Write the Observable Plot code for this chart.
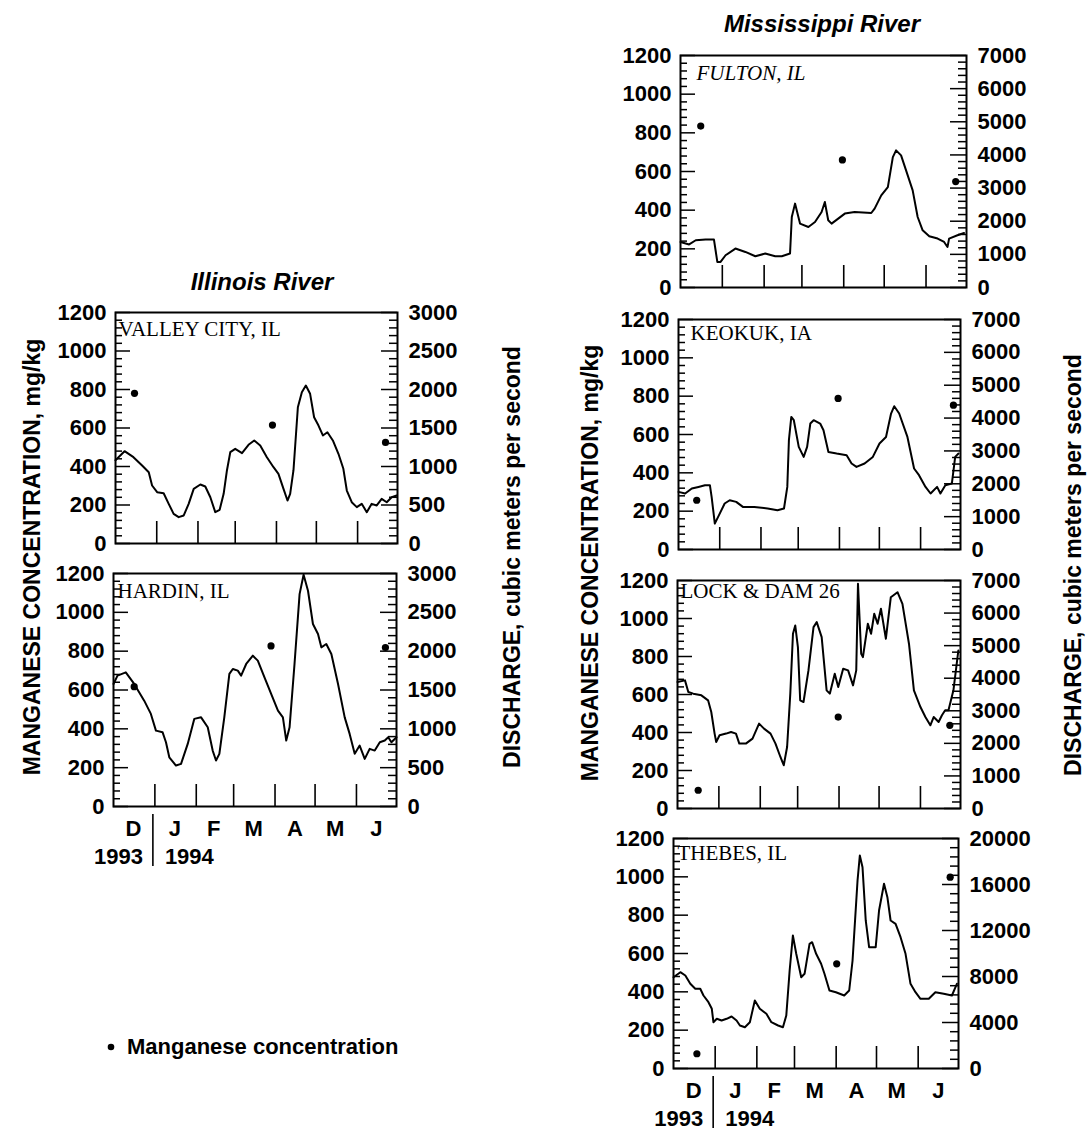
<!DOCTYPE html>
<html><head><meta charset="utf-8">
<script src="https://cdn.jsdelivr.net/npm/d3@7"></script>
<script src="https://cdn.jsdelivr.net/npm/@observablehq/plot@0.6"></script>
<style>
html,body{margin:0;padding:0;background:#fff;}
#root{position:relative;width:1089px;height:1133px;background:#fff;overflow:hidden;font-family:"Liberation Sans",Arial,Helvetica,sans-serif;color:#000;}
.t{position:absolute;transform:translate(-50%,-50%);white-space:nowrap;color:#000;}
.rot{transform:translate(-50%,-50%) rotate(-90deg);}
</style></head><body><div id="root"></div>
<script>
// ---------------- DATA ----------------
// Days are counted from 1 December 1993; discharge in m3/s, manganese in mg/kg
const monthLetters = ["D","J","F","M","A","M","J"];
const monthStartDates = ["1994-01-01","1994-02-01","1994-03-01","1994-04-01","1994-05-01","1994-06-01"];
const monthMidDates = ["1993-12-16","1994-01-16","1994-02-14","1994-03-16","1994-04-16","1994-05-16","1994-06-16"];
const yearLabels = ["1993","1994"];
const mnTicks = [0,200,400,600,800,1000,1200];
const qTicksIllinois = [0,500,1000,1500,2000,2500,3000];
const qTicksUpperMiss = [0,1000,2000,3000,4000,5000,6000,7000];
const qTicksThebes = [0,4000,8000,12000,16000,20000];

const valleyDays = [0,6.8,13.5,20,25,27.5,31.3,36.2,40,43.7,47.5,51.3,55,58.8,63.8,67.5,71.3,75,78.3,81.3,83.8,86.3,90,95.1,100,104.3,108.8,113.8,118.8,122.5,126.3,129.3,131.3,133.8,137.1,140.1,143.1,146.3,149.3,152.6,155.9,159.3,163.4,167.6,171.3,173.9,177.6,181.4,185.1,188.9,192.6,196.4,200.1,203.9,207.6,211.4];
const valleyQ = [1082,1199,1121,1013,926,753,666,653,515,385,342,364,515,710,766,740,601,407,438,645,952,1186,1229,1173,1282,1338,1273,1121,991,905,710,558,645,952,1770,1965,2052,1944,1640,1532,1403,1445,1338,1165,970,688,536,472,515,407,515,494,580,536,601,623];
const valleyMnDays = [14.3,118,203];
const valleyMn = [780,615,525];

const hardinDays = [0,3,9.2,15.5,23,28,31.8,36.8,39.3,41.8,46.8,50.6,55.6,60.5,65.6,70.6,74.3,76.8,79.3,83,86.8,89.4,93.1,95.6,99.4,104.4,108.1,113.1,118.1,123.2,126.9,129.4,131.9,135.6,139.4,142.4,145.7,149.4,153.2,155.7,159.4,163.2,168.2,173.2,176.9,180.7,184.4,188.2,191.9,195.7,199.5,203.2,205.8,208.2,212];
const hardinQ = [1578,1685,1727,1578,1363,1192,977,955,827,634,527,549,806,1128,1148,1020,720,592,678,1148,1707,1771,1749,1685,1835,1942,1878,1663,1449,1235,1148,849,1020,1835,2735,2984,2778,2350,2221,2049,2092,1964,1578,1148,935,678,784,613,742,720,827,849,891,827,891];
const hardinMnDays = [15.5,118,203.7];
const hardinMn = [617,827,819];

const fultonDays = [0,6.4,11.3,18.6,24.8,26,27.3,29.7,33.4,40.7,48.1,55.5,62.8,70.2,75.1,81.2,82.5,84.9,88.6,94.8,99.7,104.6,107,109.5,112,116.9,121.8,129.1,141.4,143.9,148.8,153.7,157.4,159.8,163.5,167.2,172.1,175.8,179.5,184.4,190.6,195.4,197.9,199.1,205.3,210.2];
const fultonQ = [1374,1300,1425,1446,1446,1124,771,771,973,1175,1073,943,1024,943,943,1024,2127,2531,1928,1826,1977,2278,2579,2028,1928,2079,2230,2278,2248,2380,2781,3031,3935,4137,3986,3534,2932,2127,1726,1546,1476,1374,1223,1476,1576,1645];
const fultonMnDays = [15,120,204];
const fultonMn = [835,660,548];

const keokukDays = [0,5,10,15,19.9,23.6,24.9,27.3,29.8,34.7,38.5,43.4,48.4,57,67,74.4,79.3,81.8,83,84.8,86.7,90.4,94.1,96.7,99.1,101.6,106.5,109,112.7,118.9,126.4,130.1,133.8,139.9,146.1,151.1,156,159.8,162.2,165.9,172.1,177.1,180.8,185.7,189.5,194.4,196.9,200.6,205.5,208,210.5];
const keokukQ = [1753,1704,1856,1905,1957,1957,1601,791,992,1400,1500,1449,1296,1296,1248,1196,1248,1905,3326,4035,3935,3122,2818,3122,3834,3935,3834,3630,2970,2921,2870,2617,2514,2617,2818,3226,3426,4138,4361,4138,3426,2465,2261,1905,1704,1905,1704,1957,2008,2818,2921];
const keokukMnDays = [13.7,120,206.7];
const keokukMn = [257,788,753];

const lockDays = [0,5.6,8.1,11.8,17.9,22.9,25.3,27.8,29,31.5,36.4,40.1,43.8,46.3,51.2,56.2,61.1,64.8,69.7,73.4,77.1,79.6,82.1,84.5,86.5,88.2,90.2,91.9,94.4,98.1,101.9,104.3,108,111.7,114.1,117.8,120.4,124.1,127.8,131.5,133.9,135.2,137.6,138.9,142.6,145,147.4,149.9,152.4,156.1,159.8,164.8,168.5,173.4,177.1,182,185.7,189.4,191.9,195.6,198.1,200.5,203,206.7,210.4];
const lockQ = [3882,3934,3575,3526,3474,3321,2962,2300,2042,2247,2300,2349,2300,1993,1993,2146,2606,2453,2300,1993,1582,1328,1889,3526,5366,5620,4955,3321,3269,4240,5568,5721,5261,3627,3526,4139,3728,4292,4240,3780,4240,6899,4752,4648,5672,5366,5979,5672,6132,5212,6488,6641,6285,5059,3627,3115,2808,2554,2808,2655,2861,3014,3014,3627,4854];
const lockMnDays = [15.5,120.4,204];
const lockMn = [96,481,438];

const thebesDays = [0,5.1,8.8,12.5,16.2,19.9,22.3,26,28.5,29.7,32.2,35.8,39.5,43.2,46.9,49.4,53.1,56.8,60.5,64.2,69.1,72.8,77.8,81.4,83.9,86.4,88.8,91.3,95,97.5,101.2,103.1,106.1,109.8,112.3,116,120.8,127,130.7,133.2,136.9,138.6,140.6,143,145.5,150.4,152.9,156.6,159.1,161.5,165.2,168.9,172.6,176.3,180,183.7,189.9,194.8,201,207.1,210.8];
const thebesQ = [7939,8374,8087,7366,6931,6931,6348,5765,5191,4026,4322,4174,4322,4522,4174,3739,3591,4026,5913,5191,4757,4026,3739,3591,4609,8522,11566,9974,7939,8235,10844,10983,9974,9105,8235,6783,6635,6348,6783,9392,16348,18522,17505,12870,10548,10548,13740,16061,14896,12870,12583,11418,9974,7366,6635,6061,6061,6635,6496,6348,7366];
const thebesMnDays = [17.4,121.4,205.8];
const thebesMn = [77,546,998];

// ---------------- LAYOUT / STYLE ----------------
const SANS = '"Liberation Sans", Arial, Helvetica, sans-serif';
const SERIF = '"Liberation Serif", "Times New Roman", serif';
const START = Date.UTC(1993, 11, 1), END = Date.UTC(1994, 6, 1);
const toDate = d => new Date(START + d * 864e5);

const panels = [
  {label: "VALLEY CITY, IL", days: valleyDays, q: valleyQ, mnDays: valleyMnDays, mn: valleyMn,
   qTicks: qTicksIllinois, qMinorStep: 100, left: 115, right: 397, top: 312, bottom: 543, ldx: 3, ldy: 9},
  {label: "HARDIN, IL", days: hardinDays, q: hardinQ, mnDays: hardinMnDays, mn: hardinMn,
   qTicks: qTicksIllinois, qMinorStep: 100, left: 113, right: 396, top: 573, bottom: 806, ldx: 4, ldy: 10, months: true},
  {label: "FULTON, IL", italic: true, days: fultonDays, q: fultonQ, mnDays: fultonMnDays, mn: fultonMn,
   qTicks: qTicksUpperMiss, qMinorStep: 200, left: 680, right: 966, top: 55, bottom: 287, ldx: 16, ldy: 10},
  {label: "KEOKUK, IA", days: keokukDays, q: keokukQ, mnDays: keokukMnDays, mn: keokukMn,
   qTicks: qTicksUpperMiss, qMinorStep: 200, left: 678, right: 960, top: 319, bottom: 549, ldx: 12, ldy: 6},
  {label: "LOCK & DAM 26", days: lockDays, q: lockQ, mnDays: lockMnDays, mn: lockMn,
   qTicks: qTicksUpperMiss, qMinorStep: 200, left: 677, right: 960, top: 580, bottom: 808, ldx: 3, ldy: 3},
  {label: "THEBES, IL", days: thebesDays, q: thebesQ, mnDays: thebesMnDays, mn: thebesMn,
   qTicks: qTicksThebes, qMinorStep: 800, left: 673, right: 958, top: 838, bottom: 1068, ldx: 4, ldy: 7, months: true}
];

const root = document.getElementById("root");
const FS = 22;

function place(el, x, y) {
  el.style.position = "absolute";
  el.style.left = x + "px";
  el.style.top = y + "px";
  root.appendChild(el);
}

for (const p of panels) {
  const W = p.right - p.left, H = p.bottom - p.top;
  const ML = 85, MR = 90, MT = 20, MB = p.months ? 80 : 20;
  const common = {
    width: W + ML + MR, height: H + MT + MB,
    marginLeft: ML, marginRight: MR, marginTop: MT, marginBottom: MB,
    x: {type: "utc", domain: [new Date(START), new Date(END)], axis: null},
    style: {background: "transparent", overflow: "visible", fontFamily: SANS, color: "#000"}
  };
  const qMax = p.qTicks[p.qTicks.length - 1];
  const qMajorStep = p.qTicks[1];
  const mnMinor = d3.range(0, 1201, 40).filter(v => v % 200 !== 0);
  const qMinor = d3.range(0, qMax + 1, p.qMinorStep).filter(v => v % qMajorStep !== 0);
  const monthStarts = monthStartDates.map(s => new Date(s));
  const monthMids = monthMidDates.map(s => new Date(s));
  const mnData = p.mnDays.map((d, i) => ({date: toDate(d), mn: p.mn[i]}));
  const qData = p.days.map((d, i) => ({date: toDate(d), q: p.q[i]}));

  const mnMarks = [
    Plot.frame({stroke: "#000", strokeWidth: 2}),
    Plot.tickY(mnMinor, {y: d => d, insetRight: W - 7, stroke: "#000", strokeWidth: 1.5}),
    Plot.tickY(mnTicks, {y: d => d, insetRight: W - 15, stroke: "#000", strokeWidth: 1.5}),
    Plot.tickX(monthStarts, {x: d => d, insetTop: H - 22, stroke: "#000", strokeWidth: 1.6}),
    Plot.axisY({anchor: "left", ticks: mnTicks, tickSize: 0, tickPadding: 9, label: null,
      tickFormat: d => String(d), fontSize: FS, fontWeight: "bold", fontFamily: SANS}),
    Plot.text([p.label], {text: d => d, frameAnchor: "top-left", dx: p.ldx, dy: p.ldy,
      textAnchor: "start", lineAnchor: "top", fontFamily: SERIF, fontSize: 21,
      fontStyle: p.italic ? "italic" : "normal", fill: "#000"}),
    Plot.dot(mnData, {x: "date", y: "mn", r: 3.6, fill: "#000", stroke: "none"})
  ];
  if (p.months) {
    const jan1 = monthStarts[0];
    mnMarks.push(
      Plot.text(monthMids, {x: d => d, text: (d, i) => monthLetters[i], frameAnchor: "bottom", dy: 22,
        lineAnchor: "middle", fontSize: FS, fontWeight: "bold", fontFamily: SANS, fill: "#000"}),
      Plot.text([jan1], {x: d => d, text: () => yearLabels[0], frameAnchor: "bottom", dy: 50, dx: -12,
        textAnchor: "end", lineAnchor: "middle", fontSize: FS, fontWeight: "bold", fontFamily: SANS, fill: "#000"}),
      Plot.text([jan1], {x: d => d, text: () => yearLabels[1], frameAnchor: "bottom", dy: 50, dx: 10,
        textAnchor: "start", lineAnchor: "middle", fontSize: FS, fontWeight: "bold", fontFamily: SANS, fill: "#000"}),
      Plot.ruleX([jan1], {x: d => d, insetTop: H + 8, insetBottom: -60, dx: -2, stroke: "#000", strokeWidth: 1.6})
    );
  }
  const a = Plot.plot({...common, y: {domain: [0, 1200]}, marks: mnMarks});

  const qMarks = [
    Plot.tickY(qMinor, {y: d => d, insetLeft: W - 8, stroke: "#000", strokeWidth: 1.5}),
    Plot.tickY(p.qTicks, {y: d => d, insetLeft: W - 16, stroke: "#000", strokeWidth: 1.5}),
    Plot.axisY({anchor: "right", ticks: p.qTicks, tickSize: 0, tickPadding: 11, label: null,
      tickFormat: d => String(d), fontSize: FS, fontWeight: "bold", fontFamily: SANS}),
    Plot.line(qData, {x: "date", y: "q", stroke: "#000", strokeWidth: 2, curve: "linear"})
  ];
  const b = Plot.plot({...common, y: {domain: [0, qMax]}, marks: qMarks});

  place(a, p.left - ML, p.top - MT);
  place(b, p.left - ML, p.top - MT);
}

function addText(txt, x, y, css, rotate) {
  const d = document.createElement("div");
  d.className = "t" + (rotate ? " rot" : "");
  d.textContent = txt;
  Object.assign(d.style, {left: x + "px", top: y + "px"}, css);
  root.appendChild(d);
  return d;
}
const titleCss = {fontSize: "24px", fontStyle: "italic", fontWeight: "bold", fontFamily: SANS};
const axisCss = {fontSize: "23px", fontWeight: "bold", fontFamily: SANS};
addText("Mississippi River", 822, 24, titleCss);
addText("Illinois River", 262, 282, titleCss);
addText("MANGANESE CONCENTRATION, mg/kg", 32, 557, axisCss, true);
addText("DISCHARGE, cubic meters per second", 512, 557, axisCss, true);
addText("MANGANESE CONCENTRATION, mg/kg", 590, 563, axisCss, true);
addText("DISCHARGE, cubic meters per second", 1073, 565, axisCss, true);

// legend
const leg = document.createElement("div");
Object.assign(leg.style, {position: "absolute", left: "107px", top: "1034px", fontSize: "22px",
  fontWeight: "bold", fontFamily: SANS, display: "flex", alignItems: "center", gap: "12px", whiteSpace: "nowrap"});
leg.innerHTML = '<svg width="8" height="8" style="display:block"><circle cx="4" cy="4" r="3.3" fill="#000"/></svg><span>Manganese concentration</span>';
root.appendChild(leg);
</script></body></html>
